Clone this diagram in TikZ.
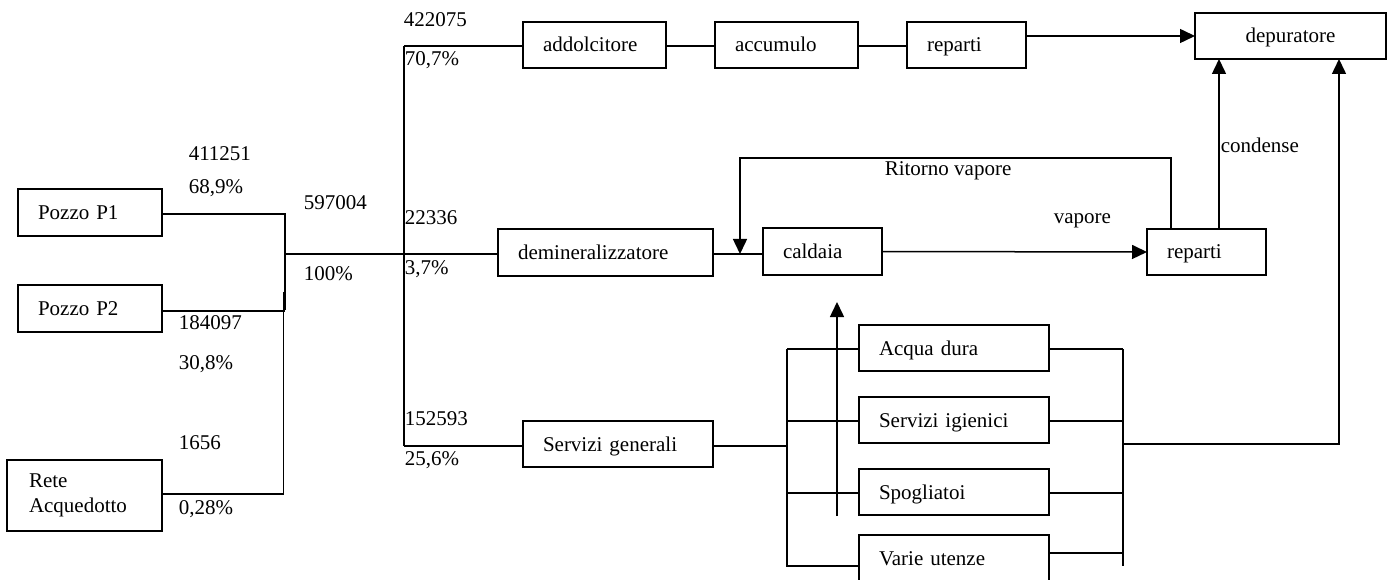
\documentclass[tikz,border=0pt]{standalone}
\usepackage{fontspec}
\setmainfont{Liberation Serif}
\usetikzlibrary{arrows.meta}
\begin{document}
\begin{tikzpicture}[x=1pt,y=-1pt,
  font=\fontsize{21}{25}\selectfont,
  every path/.style={line width=1.5pt},
  box/.style={draw, line width=1.6pt, outer sep=0pt, inner xsep=20pt, inner ysep=0pt,
    minimum height=46pt, text width=#1, text height=14pt, text depth=0pt,
    align=left, anchor=north west},
  lbl/.style={inner sep=0pt, anchor=base west},
  flow/.style={-{Triangle[length=15pt,width=14pt]}}]
\useasboundingbox (0,0) rectangle (1393,580);

% sources
\node[box=104pt, minimum height=47pt] (p1) at (18,189) {Pozzo P1};
\node[box=104pt, minimum height=47pt] (p2) at (18,285) {Pozzo P2};
\node[box=111pt, inner xsep=22pt, minimum height=71pt, text height=, text depth=] (rete) at (7,460) {Rete\\Acquedotto};

% top branch
\node[box=103pt] (addolc) at (523,22) {addolcitore};
\node[box=103pt] (accum) at (715,22) {accumulo};
\node[box=79pt] (rep1) at (907,22) {reparti};
\node[box=151pt, align=center] (depur) at (1195,13) {depuratore};

% steam branch
\node[box=175pt, minimum height=47pt] (demin) at (498,229) {demineralizzatore};
\node[box=79pt, minimum height=47pt] (cald) at (763,228) {caldaia};
\node[box=79pt] (rep2) at (1147,229) {reparti};

% general services
\node[box=150pt] (servgen) at (523,421) {Servizi generali};
\node[box=150pt] (acqua) at (859,325) {Acqua dura};
\node[box=150pt] (igien) at (859,397) {Servizi igienici};
\node[box=150pt] (spogl) at (859,469) {Spogliatoi};
\node[box=150pt] (varie) at (859,535) {Varie utenze};

% junction and bus lines
\coordinate (ja) at (285,214);
\coordinate (jb) at (283.5,292);
\coordinate (jm) at (284,254);
\coordinate (bt) at (404,46);
\coordinate (bb) at (404,446);
\draw (p1.east |- ja) -- (ja) -- (ja |- 0,310);
\draw (p2.east |- 0,311) -- (285,311);
\draw (jb) -- (jb |- 0,494) -- (rete.east |- 0,494);
\draw (jm) -- (jm -| bt);
\draw (bt) -- (bb);
\draw (bt) -- (bt -| addolc.west);
\draw (bt |- 0,254) -- (demin.west |- 0,254);
\draw (bb) -- (bb -| servgen.west);

% top chain
\draw (addolc.east |- bt) -- (accum.west |- bt);
\draw (accum.east |- bt) -- (rep1.west |- bt);
\draw[flow] (rep1.east |- depur.west) -- (depur.west);

% steam loop
\coordinate (rva) at (1171,158);
\coordinate (rvb) at (740,158);
\coordinate (dc) at (713,254);
\draw (dc) -- (dc -| cald.west);
\draw[flow] (rva |- rep2.north) -- (rva) -- (rvb) -- (rvb |- dc);
\draw[flow] (cald.east) -- (rep2.west);
\coordinate (cx) at (1219,0);
\draw[flow] (rep2.north -| cx) -- (depur.south -| cx);

% services collectors
\coordinate (lt) at (787,349);
\coordinate (lb) at (787,566);
\coordinate (rt) at (1123,349);
\coordinate (rb) at (1123,566);
\draw (servgen.east |- bb) -- (bb -| lt);
\draw (lt) -- (lb) -- (lb -| varie.west);
\draw (lt) -- (lt -| acqua.west);
\draw (lt |- 0,421) -- (igien.west |- 0,421);
\draw (lt |- 0,493) -- (spogl.west |- 0,493);
\draw (rt) -- (rb);
\draw (acqua.east |- rt) -- (rt);
\draw (igien.east |- 0,421) -- (rt |- 0,421);
\draw (spogl.east |- 0,493) -- (rt |- 0,493);
\draw (varie.east |- 0,553) -- (rt |- 0,553);
\coordinate (ox) at (1339,444);
\draw[flow] (rt |- ox) -- (ox) -- (ox |- depur.south);

% free rising arrow
\coordinate (ua) at (837,516);
\coordinate (ub) at (837,302);
\draw[flow] (ua) -- (ub);

% flow figures
\node[lbl] (t1) at (188,161) {411251};
\node[lbl] (t2) at (188,194) {68,9\%};
\node[lbl] (t3) at (303,210) {597004};
\node[lbl] (t4) at (303,281) {100\%};
\node[lbl] (t5) at (178,330) {184097};
\node[lbl] (t6) at (178,369) {30,8\%};
\node[lbl] (t7) at (178,449) {1656};
\node[lbl] (t8) at (178,514) {0,28\%};
\node[lbl] (t9) at (403,27) {422075};
\node[lbl] (t10) at (404,66) {70,7\%};
\node[lbl] (t11) at (404,225) {22336};
\node[lbl] (t12) at (404,275) {3,7\%};
\node[lbl] (t13) at (404,425) {152593};
\node[lbl] (t14) at (404,465) {25,6\%};
\node[lbl] (t15) at (884,176) {Ritorno vapore};
\node[lbl] (t16) at (1053,224) {vapore};
\node[lbl] (t17) at (1220,153) {condense};
\end{tikzpicture}
\end{document}
